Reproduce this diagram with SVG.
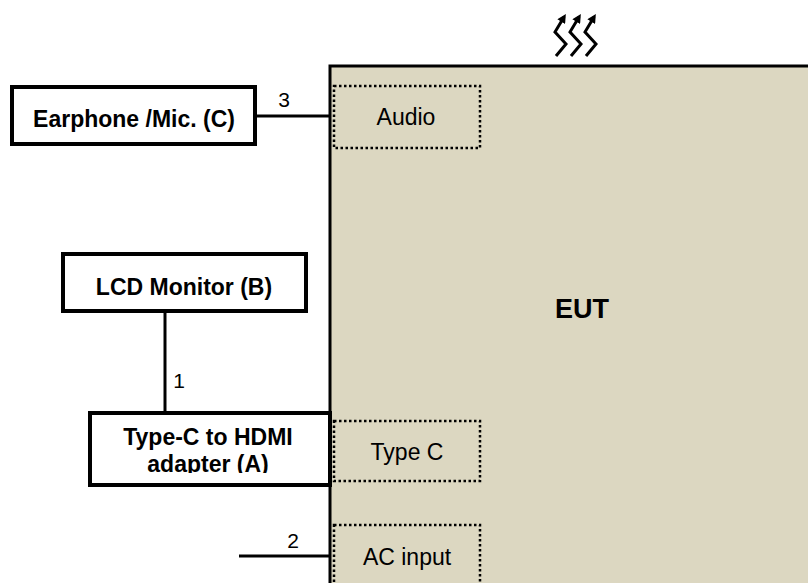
<svg xmlns="http://www.w3.org/2000/svg" width="808" height="583" viewBox="0 0 808 583">
<style>
  .box { fill: #ffffff; stroke: #000000; stroke-width: 4; }
  .port { fill: none; stroke: #000000; stroke-width: 2.5; stroke-dasharray: 2.5 2.5; }
  .wire { fill: none; stroke: #000000; stroke-width: 3; }
  .lbl { font-family: "Liberation Sans", Arial, sans-serif; font-size: 23px; fill: #000000; text-anchor: middle; }
  .num { font-family: "Liberation Sans", Arial, sans-serif; font-size: 21px; fill: #000000; text-anchor: middle; }
  .bold { font-weight: bold; }
  .heat { fill: none; stroke: #000000; stroke-width: 3; marker-end: url(#ah); }
</style>
<defs>
  <marker id="ah" viewBox="0 0 10 10" refX="6" refY="5" markerWidth="3.2" markerHeight="3" orient="auto" markerUnits="strokeWidth">
    <path d="M0,0 L10,5 L0,10 Z" fill="#000000"/>
  </marker>
  <clipPath id="clipA">
    <rect x="90" y="413" width="240" height="60"/>
  </clipPath>
</defs>
<rect width="808" height="583" fill="#ffffff"/>

<g id="eut">
  <rect x="330" y="66" width="500" height="560" fill="#dcd7c1" stroke="#000000" stroke-width="3"/>
  <text class="lbl bold" x="582" y="318" style="font-size:27px">EUT</text>
</g>

<g id="port-audio">
  <rect class="port" x="334" y="86" width="146" height="62"/>
  <text class="lbl" x="406" y="125">Audio</text>
</g>
<g id="port-typec">
  <rect class="port" x="334" y="421" width="146" height="60"/>
  <text class="lbl" x="407" y="460">Type C</text>
</g>
<g id="port-ac">
  <rect class="port" x="334" y="525" width="146" height="70"/>
  <text class="lbl" x="407" y="565">AC input</text>
</g>

<g id="heat">
  <path class="heat" d="M556,56 L566,44 L555,32 L564,17"/>
  <path class="heat" d="M571,56 L581,44 L570,32 L579,17"/>
  <path class="heat" d="M586,56 L596,44 L585,32 L594,17"/>
</g>

<g id="connectors">
  <line class="wire" x1="255" y1="116" x2="330" y2="116"/>
  <line class="wire" x1="165" y1="311" x2="165" y2="413"/>
  <line class="wire" x1="239" y1="556" x2="330" y2="556"/>
  <text class="num" x="284" y="107">3</text>
  <text class="num" x="179" y="388">1</text>
  <text class="num" x="293" y="548">2</text>
</g>

<g id="earphone">
  <rect class="box" x="12" y="87" width="243" height="57"/>
  <text class="lbl bold" x="134" y="127">Earphone /Mic. (C)</text>
</g>

<g id="lcd">
  <rect class="box" x="63" y="254" width="243" height="57"/>
  <text class="lbl bold" x="184" y="295">LCD Monitor (B)</text>
</g>

<g id="adapter">
  <rect class="box" x="90" y="413" width="240" height="72"/>
  <g clip-path="url(#clipA)">
    <text class="lbl bold" x="208" y="445">Type-C to HDMI</text>
    <text class="lbl bold" x="208" y="472">adapter (A)</text>
  </g>
</g>
</svg>
